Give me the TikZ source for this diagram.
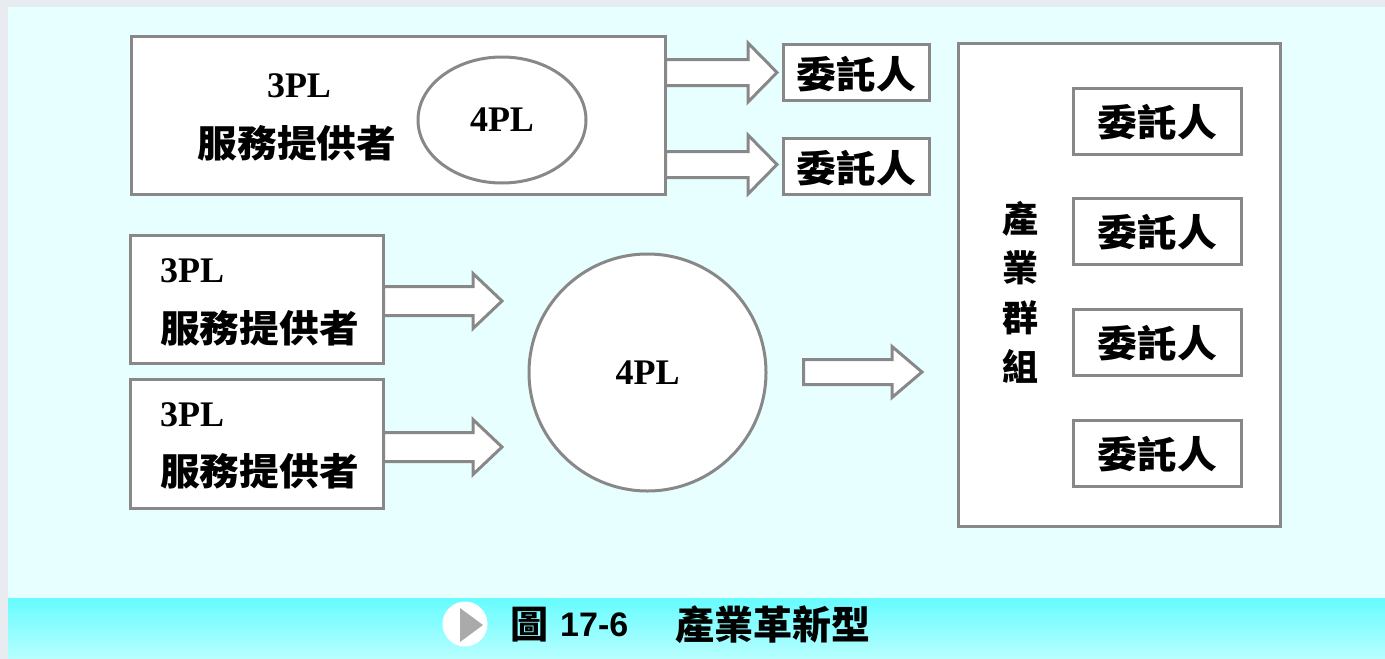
\documentclass[tikz,border=0pt]{standalone}
\usepackage{fontspec}
\usetikzlibrary{shapes.geometric}
\setmainfont{Liberation Serif}
\newfontfamily\cjk{Noto Sans CJK TC}
\newfontfamily\cjkwide{Noto Sans CJK TC}[FakeStretch=1.06]
\newfontfamily\titlesans{Liberation Sans}
\definecolor{edge}{HTML}{888888}
\definecolor{panel}{HTML}{E8FFFF}
\definecolor{outer}{HTML}{E8EBEF}
\definecolor{bandtop}{HTML}{66FCFF}
\definecolor{bandbot}{HTML}{B8FFFF}
\definecolor{playtri}{HTML}{AAAAAA}
\newcommand\blockarrow[6]{% start x, head base x, tip x, centre y, shaft half, head half
  \draw[barr] (#1,#4-#5) -- (#2,#4-#5) -- (#2,#4-#6) -- (#3,#4) -- (#2,#4+#6) -- (#2,#4+#5) -- (#1,#4+#5) -- cycle;}
\begin{document}
\begin{tikzpicture}[x=1pt,y=-1pt,
  box/.style={draw=edge, line width=3pt, fill=white, inner sep=0pt},
  barr/.style={draw=edge, line width=3pt, fill=white, line join=miter},
  lat/.style={font=\fontsize{36}{36}\selectfont\bfseries, inner sep=0pt},
  han/.style={font=\fontsize{37.5}{37.5}\selectfont\cjkwide\bfseries, inner sep=0pt},
  client/.style={font=\fontsize{37.5}{37.5}\selectfont\cjkwide\bfseries, inner sep=0pt},
]
% background
\fill[outer] (0,0) rectangle (1385,659);
\fill[panel] (8,7) rectangle (1385,598);
\shade[top color=bandtop, bottom color=bandbot] (8,598) rectangle (1385,659);
\useasboundingbox (0,0) rectangle (1385,659);

% top provider box
\node[box, minimum width=534pt, minimum height=158pt] (top) at (398.5,115.5) {};
\node[lat] (top3pl) at (299,86) {3PL};
\node[han] (topsp) at (297,143) {服務提供者};
\node[box, ellipse, minimum width=168pt, minimum height=126pt] (top4pl) at (502,120) {};
\node[lat] at (top4pl.center) {4PL};

% top clients
\node[box, minimum width=146pt, minimum height=56pt] (c1) at (856.5,72.5) {};
\node[client] at ([yshift=-2pt]c1.center) {委託人};
\node[box, minimum width=146pt, minimum height=56pt] (c2) at (856.5,166.5) {};
\node[client] at ([yshift=-2pt]c2.center) {委託人};

% block arrows top
\blockarrow{665.5}{748}{777}{72.5}{13}{29.5}
\blockarrow{665.5}{748}{777}{164.5}{13}{29.5}

% left provider boxes
\node[box, minimum width=253pt, minimum height=128pt] (pa) at (257,299.5) {};
\node[lat, anchor=west] (pa3) at (160,270.5) {3PL};
\node[han, anchor=west] (pas) at (160,328.5) {服務提供者};
\node[box, minimum width=253pt, minimum height=129pt] (pb) at (257,444) {};
\node[lat, anchor=west] (pb3) at (160,415) {3PL};
\node[han, anchor=west] (pbs) at (160,471.5) {服務提供者};

\blockarrow{383.5}{473}{502}{301}{14.5}{27.5}
\blockarrow{383.5}{473}{502}{447}{14.5}{27.5}

% big 4PL circle
\node[box, circle, minimum size=237pt] (big) at (647.5,372.5) {};
\node[lat] at (big.center) {4PL};

\blockarrow{803.5}{892}{922}{372}{12.5}{25.5}

% industry group
\node[box, minimum width=322pt, minimum height=482.5pt] (grp) at (1119.5,284.75) {};
\node[font=\fontsize{36}{49.5}\selectfont\cjk\bfseries, align=center, inner sep=0pt] (grplbl) at (1020.5,292.5) {產\\業\\群\\組};
\foreach \yy [count=\i] in {121.5,231.5,342.5,453.5}{
  \node[box, minimum width=168pt, minimum height=66pt] (g\i) at (1157.5,\yy) {};
  \node[client] at ([yshift=-1pt]g\i.center) {委託人};
}

% caption band
\node[circle, fill=white, minimum size=45pt, inner sep=0pt] (play) at (465,624) {};
\fill[playtri] (460,608) -- (483,625) -- (460,642) -- cycle;
\node[font=\fontsize{38}{38}\selectfont\cjk\bfseries, anchor=west, inner sep=0pt] (fig) at (510,625) {圖};
\node[font=\fontsize{34}{34}\selectfont\titlesans\bfseries, anchor=west, inner sep=0pt] (num) at (560,625) {17-6};
\node[font=\fontsize{39}{39}\selectfont\cjk\bfseries, anchor=west, inner sep=0pt] (title) at (675,625) {產業革新型};
\end{tikzpicture}
\end{document}
